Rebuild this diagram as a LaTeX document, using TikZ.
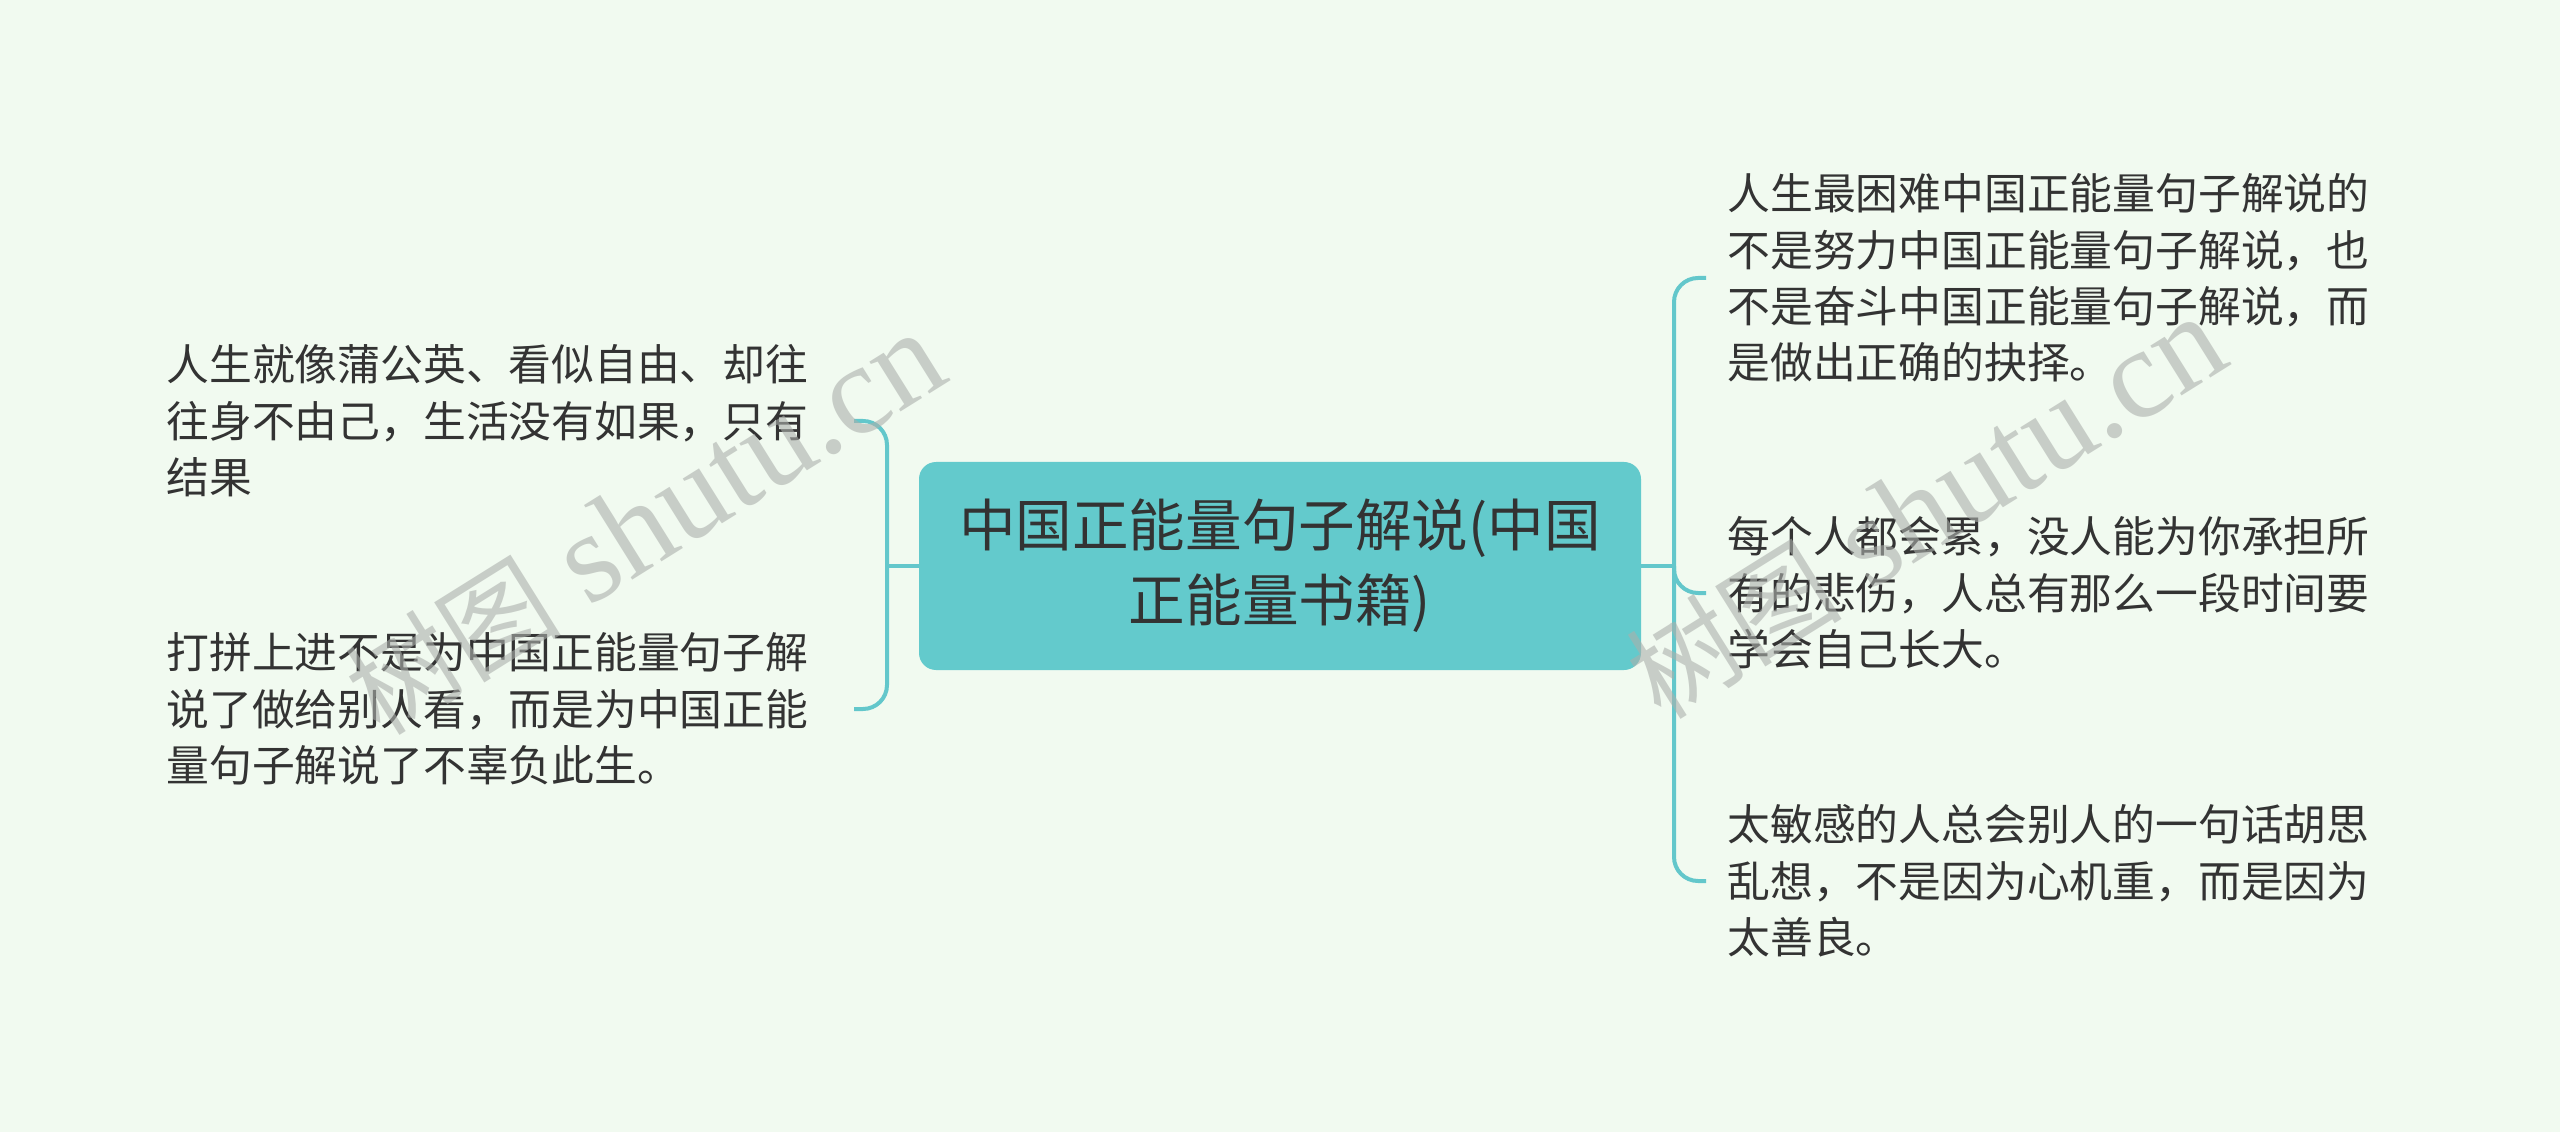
\documentclass[tikz,border=0pt]{standalone}
\usepackage{fontspec}
\setmainfont{Noto Sans CJK SC}
\newfontfamily\wmlatin{Liberation Serif}
\usetikzlibrary{calc}
\definecolor{bg}{RGB}{241,250,240}
\definecolor{boxc}{RGB}{99,202,204}
\definecolor{linec}{RGB}{99,199,203}
\definecolor{txt}{RGB}{51,51,51}
\definecolor{wm}{RGB}{172,176,172}
\begin{document}
\begin{tikzpicture}[x=0.5pt,y=0.5pt,
  conn/.style={draw=linec,line width=2pt,rounded corners=12pt},
  leaf/.style={anchor=west,inner sep=0pt,align=left,text=txt,font=\fontsize{21.4}{28.2}\selectfont},
  root/.style={fill=boxc,rounded corners=8.5pt,minimum width=361pt,minimum height=104pt,align=center,text=txt,font=\fontsize{28.3}{37.5}\selectfont,inner sep=0pt},
  wmark/.style={text=wm,text opacity=0.6,rotate=32,inner sep=0pt,font=\fontsize{64}{64}\selectfont}]
\fill[bg] (0,0) rectangle (2560,1132);
\useasboundingbox (0,0) rectangle (2560,1132);
\node[root] (c) at (1280,566) {中国正能量句子解说(中国\\正能量书籍)};
\node[leaf] (l1) at (166,711) {人生就像蒲公英、看似自由、却往\\往身不由己，生活没有如果，只有\\结果};
\node[leaf] (l2) at (166,423) {打拼上进不是为中国正能量句子解\\说了做给别人看，而是为中国正能\\量句子解说了不辜负此生。};
\node[leaf] (r1) at (1727,854) {人生最困难中国正能量句子解说的\\不是努力中国正能量句子解说，也\\不是奋斗中国正能量句子解说，而\\是做出正确的抉择。};
\node[leaf] (r2) at (1727,539) {每个人都会累，没人能为你承担所\\有的悲伤，人总有那么一段时间要\\学会自己长大。};
\node[leaf] (r3) at (1727,251) {太敏感的人总会别人的一句话胡思\\乱想，不是因为心机重，而是因为\\太善良。};
\coordinate (jl) at (887,566);
\coordinate (jr) at (1674,566);
\draw[conn] (c.west) -- (jl);
\draw[conn] ($(l1.west)+(688,0)$) -| (jl) |- ($(l2.west)+(688,0)$);
\draw[conn] (c.east) -- (jr);
\draw[conn] ($(r1.west)+(-21,0)$) -| (jr) |- ($(r3.west)+(-21,0)$);
\draw[conn] (jr) |- ($(r2.west)+(-21,0)$);
\node[wmark] (w1) at (645,608) {{\fontsize{54}{54}\selectfont 树图} {\wmlatin shutu.cn}};
\node[wmark] (w2) at (1926,624) {{\fontsize{54}{54}\selectfont 树图} {\wmlatin shutu.cn}};
\end{tikzpicture}
\end{document}
